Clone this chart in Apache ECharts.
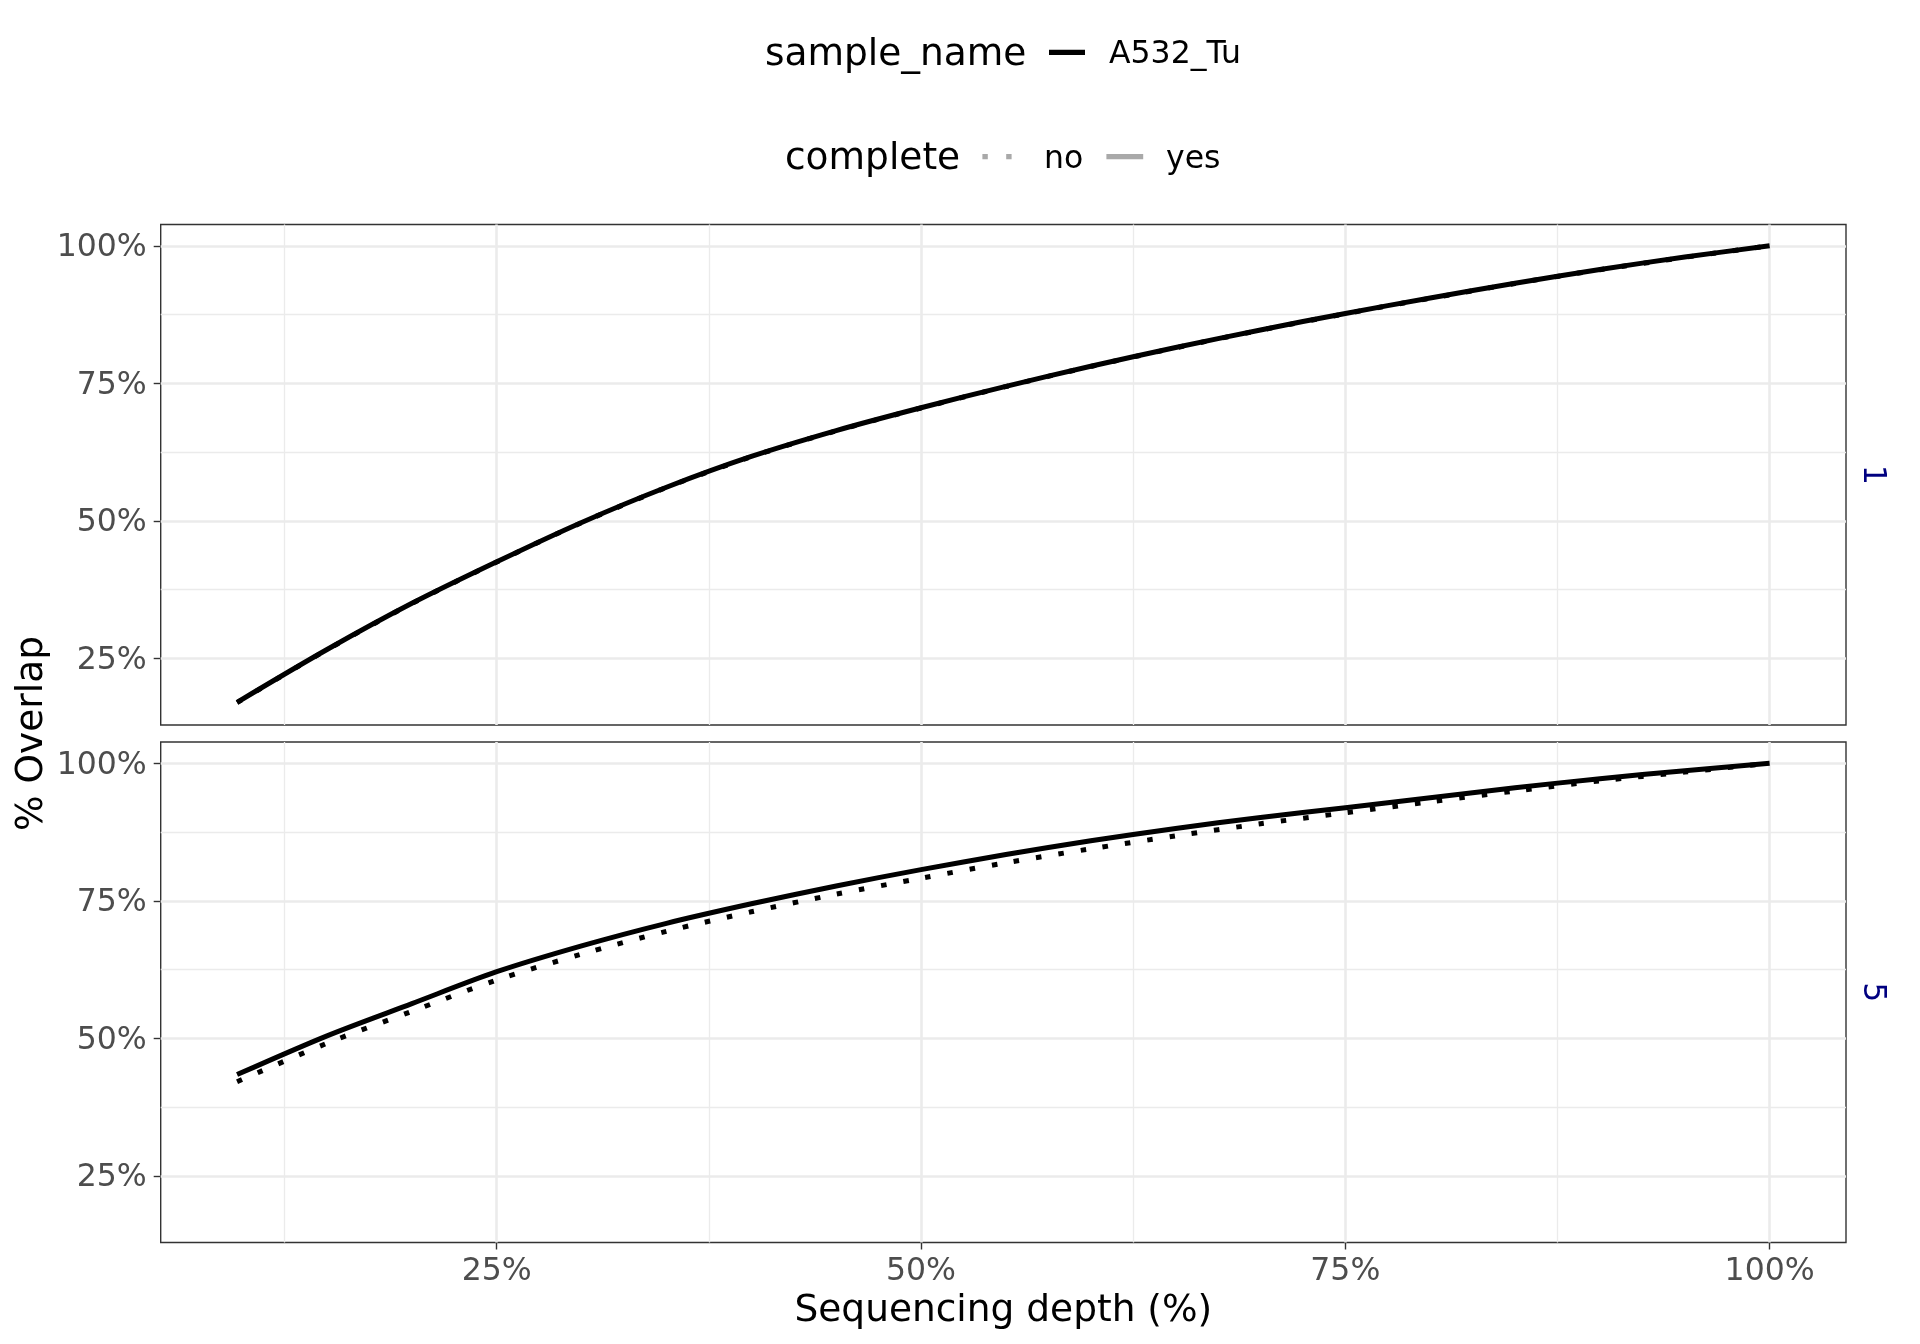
<!DOCTYPE html>
<html>
<head>
<meta charset="utf-8">
<script src="https://cdn.jsdelivr.net/npm/echarts@6/dist/echarts.min.js"></script>
<style>
html,body{margin:0;padding:0;background:#fff;}
#chart{width:1920px;height:1344px;}
</style>
</head>
<body>
<div id="chart"></div>
<script>
// ---- data ----
const depth = [9.7, 15, 20, 25, 30, 35, 40, 45, 50, 55, 60, 65, 70, 75, 80, 85, 90, 95, 100];
const panel1_yes = [17.0, 26.6, 35.0, 42.55, 49.7, 56.1, 61.7, 66.4, 70.55, 74.45, 78.1, 81.5, 84.7, 87.7, 90.5, 93.2, 95.7, 97.95, 100];
const panel1_no  = [16.95, 26.55, 34.95, 42.5, 49.65, 56.05, 61.65, 66.35, 70.5, 74.4, 78.05, 81.45, 84.65, 87.65, 90.45, 93.15, 95.65, 97.9, 100];
const panel5_yes = [43.4, 50.45, 56.3, 62.1, 66.8, 70.9, 74.45, 77.7, 80.66, 83.4, 85.9, 88.15, 90.15, 91.9, 93.75, 95.55, 97.2, 98.65, 100];
const panel5_no  = [42.1, 49.1, 54.9, 60.6, 65.3, 69.45, 73.0, 76.2, 79.1, 81.9, 84.45, 86.8, 89.0, 91.0, 93.0, 94.95, 96.8, 98.4, 100];
const panelLabels = ['1', '5'];
const xTicks = [25, 50, 75, 100];
const xMinor = [12.5, 37.5, 62.5, 87.5];
const yTicks = [25, 50, 75, 100];
const yMinor = [37.5, 62.5, 87.5];
const sampleName = 'A532_Tu';
const completeLevels = ['no', 'yes'];

// ---- styling / layout ----
const FONT = '"DejaVu Sans"';
const TITLE_PX = 37.5, TEXT_PX = 31.5;
const GRID_L = 160.7, GRID_W = 1685.3, GRID_H = 500.5;
const GRID_TOPS = [224.5, 742];
const X_MIN = 5.2, X_MAX = 104.5, Y_MIN = 12.87, Y_MAX = 103.87;

const chart = echarts.init(document.getElementById('chart'), null, {renderer: 'canvas'});

function pairs(arr) { return depth.map((d, i) => [d, arr[i]]); }

function gridLines() {
  const major = {color: '#EBEBEB', width: 2.6, type: 'solid'};
  const minor = {color: '#EBEBEB', width: 1.3, type: 'solid'};
  const d = [];
  xMinor.forEach(v => d.push({xAxis: v, lineStyle: minor}));
  yMinor.forEach(v => d.push({yAxis: v, lineStyle: minor}));
  xTicks.forEach(v => d.push({xAxis: v, lineStyle: major}));
  yTicks.forEach(v => d.push({yAxis: v, lineStyle: major}));
  return {
    silent: true, symbol: ['none', 'none'], z: 1, animation: false,
    label: {show: false}, emphasis: {disabled: true},
    data: d
  };
}

const grids = GRID_TOPS.map(t => ({
  left: GRID_L, top: t, width: GRID_W, height: GRID_H,
  show: true, borderColor: '#333333', borderWidth: 1.4, backgroundColor: '#fff', containLabel: false
}));

const xAxes = GRID_TOPS.map((t, i) => ({
  type: 'value', gridIndex: i, min: X_MIN, max: X_MAX,
  axisLine: {show: false},
  splitLine: {show: false},
  axisTick: {show: i === 1, length: 7, customValues: xTicks, lineStyle: {color: '#333333', width: 1.4}},
  axisLabel: {show: i === 1, customValues: xTicks, margin: 13, color: '#4D4D4D', fontSize: TEXT_PX, fontFamily: FONT,
              formatter: v => v + '%'},
  name: i === 1 ? 'Sequencing depth (%)' : '',
  nameLocation: 'middle', nameGap: 50,
  nameTextStyle: {fontSize: TITLE_PX, color: '#000', fontFamily: FONT}
}));

const yAxes = GRID_TOPS.map((t, i) => ({
  type: 'value', gridIndex: i, min: Y_MIN, max: Y_MAX,
  axisLine: {show: false},
  splitLine: {show: false},
  axisTick: {show: true, length: 7, customValues: yTicks, lineStyle: {color: '#333333', width: 1.4}},
  axisLabel: {show: true, customValues: yTicks, margin: 14, color: '#4D4D4D', fontSize: TEXT_PX, fontFamily: FONT,
              verticalAlign: 'top', lineHeight: 5, formatter: v => v + '%'}
}));

function lineSeries(name, arr, gi, dotted, withGrid) {
  const s = {
    name: name, type: 'line', xAxisIndex: gi, yAxisIndex: gi,
    data: pairs(arr), showSymbol: false, symbol: 'none', animation: false, z: dotted ? 2 : 3,
    smooth: 0.3,
    lineStyle: dotted
      ? {color: '#000', width: 5, type: [5.5, 17], cap: 'butt', join: 'round'}
      : {color: '#000', width: 5, type: 'solid', cap: 'butt', join: 'round'},
    emphasis: {disabled: true}
  };
  if (withGrid) s.markLine = gridLines();
  return s;
}

const series = [
  lineSeries(completeLevels[0], panel1_no, 0, true, true),
  lineSeries(completeLevels[1], panel1_yes, 0, false, false),
  lineSeries(completeLevels[0], panel5_no, 1, true, true),
  lineSeries(completeLevels[1], panel5_yes, 1, false, false)
];

const R1 = 55.3, R2 = 159.4;
const graphic = [
  // legend row 1
  {type: 'text', x: 765, y: R1, silent: true,
   style: {text: 'sample_name', font: TITLE_PX + 'px ' + FONT, fill: '#000', align: 'left', verticalAlign: 'middle'}},
  {type: 'line', silent: true, shape: {x1: 1049, y1: 52.4, x2: 1085, y2: 52.4},
   style: {stroke: '#000', lineWidth: 5.3, lineCap: 'butt'}},
  {type: 'text', x: 1109, y: R1, silent: true,
   style: {text: sampleName, font: TEXT_PX + 'px ' + FONT, fill: '#000', align: 'left', verticalAlign: 'middle'}},
  // legend row 2
  {type: 'text', x: 785, y: R2, silent: true,
   style: {text: 'complete', font: TITLE_PX + 'px ' + FONT, fill: '#000', align: 'left', verticalAlign: 'middle'}},
  {type: 'line', silent: true, shape: {x1: 982.4, y1: 156.7, x2: 1011.6, y2: 156.7},
   style: {stroke: '#A9A9A9', lineWidth: 5.3, lineCap: 'butt', lineDash: [5.4, 18.4]}},
  {type: 'text', x: 1044, y: R2, silent: true,
   style: {text: completeLevels[0], font: TEXT_PX + 'px ' + FONT, fill: '#000', align: 'left', verticalAlign: 'middle'}},
  {type: 'line', silent: true, shape: {x1: 1106.4, y1: 156.7, x2: 1143.2, y2: 156.7},
   style: {stroke: '#A9A9A9', lineWidth: 5.3, lineCap: 'butt'}},
  {type: 'text', x: 1166, y: R2, silent: true,
   style: {text: completeLevels[1], font: TEXT_PX + 'px ' + FONT, fill: '#000', align: 'left', verticalAlign: 'middle'}},
  // y axis title
  {type: 'text', x: 32, y: 733.5, rotation: Math.PI / 2, silent: true,
   style: {text: '% Overlap', font: TITLE_PX + 'px ' + FONT, fill: '#000', align: 'center', verticalAlign: 'middle'}},
  // strip labels
  {type: 'text', x: 1872, y: GRID_TOPS[0] + GRID_H / 2, rotation: -Math.PI / 2, silent: true,
   style: {text: panelLabels[0], font: TEXT_PX + 'px ' + FONT, fill: '#000080', align: 'center', verticalAlign: 'middle'}},
  {type: 'text', x: 1872, y: GRID_TOPS[1] + GRID_H / 2, rotation: -Math.PI / 2, silent: true,
   style: {text: panelLabels[1], font: TEXT_PX + 'px ' + FONT, fill: '#000080', align: 'center', verticalAlign: 'middle'}}
];

chart.setOption({
  backgroundColor: '#ffffff',
  animation: false,
  textStyle: {fontFamily: FONT},
  grid: grids,
  xAxis: xAxes,
  yAxis: yAxes,
  series: series,
  graphic: graphic
});
</script>
</body>
</html>
